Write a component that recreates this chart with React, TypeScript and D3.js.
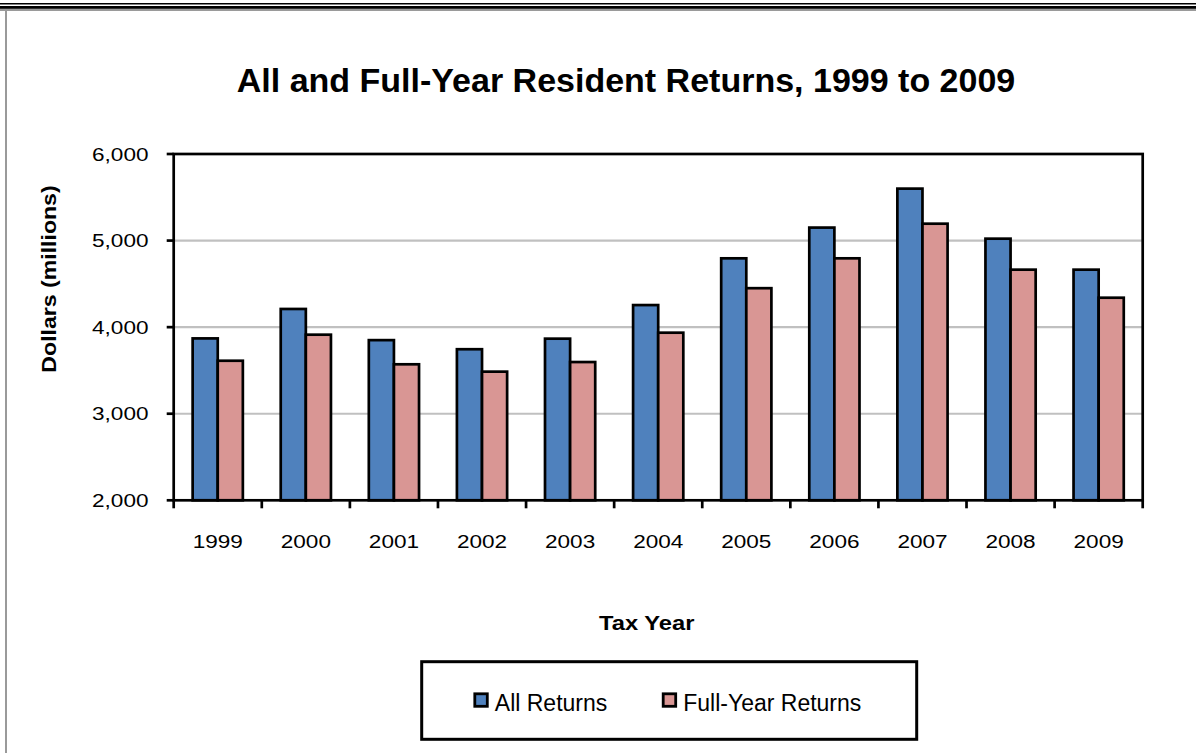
import React from "react";
import * as d3 from "d3";

const years = ["1999", "2000", "2001", "2002", "2003", "2004", "2005", "2006", "2007", "2008", "2009"];
const allReturns = [3870, 4210, 3850, 3745, 3867, 4255, 4795, 5150, 5600, 5022, 4664];
const fullYearReturns = [3612, 3913, 3571, 3486, 3597, 3936, 4450, 4795, 5195, 4664, 4340];
const seriesNames = ["All Returns", "Full-Year Returns"];
const seriesColors = ["#4F81BD", "#D99694"];
const yTicks = [2000, 3000, 4000, 5000, 6000];

const W = 1196;
const H = 753;
const FONT = "'Liberation Sans', Arial, Helvetica, sans-serif";

export default function App() {
  const x0 = 173.7, x1 = 1142.7, y0 = 154, y1 = 500.3;
  const x = d3.scaleBand<string>().domain(years).range([x0, x1]).paddingInner(0.43).paddingOuter(0.215);
  const xs = d3.scaleBand<string>().domain(seriesNames).range([0, x.bandwidth()]).padding(0);
  const y = d3.scaleLinear().domain([2000, 6000]).range([y1, y0]);
  const step = (x1 - x0) / years.length;
  const fmt = d3.format(",");
  const series = [allReturns, fullYearReturns];

  return (
    <svg width={W} height={H} style={{ display: "block", position: "absolute", left: 0, top: 0 }} fontFamily={FONT}>
      <rect x={0} y={0} width={W} height={H} fill="#fff" />
      {/* page frame */}
      <rect x={0} y={3} width={W} height={1.5} fill="#000" />
      <rect x={0} y={6} width={W} height={2.8} fill="#000" />
      <rect x={0} y={9} width={W} height={2} fill="#9a9a9a" />
      <rect x={5} y={10} width={2} height={H - 10} fill="#9a9a9a" />

      {/* title */}
      <text x={626} y={91.7} textAnchor="middle" fontSize={34} fontWeight="bold" fill="#000">
        All and Full-Year Resident Returns, 1999 to 2009
      </text>

      {/* gridlines */}
      {yTicks.filter((t) => t !== 2000 && t !== 6000).map((t) => (
        <line key={"g" + t} x1={x0} x2={x1} y1={y(t)} y2={y(t)} stroke="#C0C0C0" strokeWidth={2.2} />
      ))}

      {/* bars */}
      {years.map((yr, i) => (
        <g key={yr}>
          {seriesNames.map((s, j) => (
            <rect
              key={s}
              x={(x(yr) as number) + (xs(s) as number)}
              y={y(series[j][i])}
              width={xs.bandwidth()}
              height={y1 - y(series[j][i])}
              fill={seriesColors[j]}
              stroke="#000"
              strokeWidth={2.7}
            />
          ))}
        </g>
      ))}

      {/* plot frame */}
      <rect x={x0} y={y0} width={x1 - x0} height={y1 - y0} fill="none" stroke="#000" strokeWidth={2.7} />

      {/* y ticks */}
      {yTicks.map((t) => (
        <g key={"y" + t}>
          <line x1={x0 - 7} x2={x0} y1={y(t)} y2={y(t)} stroke="#000" strokeWidth={2.7} />
          <text
            transform={`translate(148.5, ${y(t) + 6.6}) scale(1.2,1)`}
            textAnchor="end"
            fontSize={18.8}
            fill="#000"
          >
            {fmt(t)}
          </text>
        </g>
      ))}

      {/* x ticks */}
      {d3.range(years.length + 1).map((k) => (
        <line key={"xt" + k} x1={x0 + k * step} x2={x0 + k * step} y1={y1} y2={y1 + 8} stroke="#000" strokeWidth={2.7} />
      ))}
      {years.map((yr) => (
        <text
          key={"xl" + yr}
          transform={`translate(${(x(yr) as number) + x.bandwidth() / 2}, 548.3) scale(1.2,1)`}
          textAnchor="middle"
          fontSize={18.8}
          fill="#000"
        >
          {yr}
        </text>
      ))}

      {/* axis titles */}
      <text transform="translate(646.7, 630) scale(1.13,1)" textAnchor="middle" fontSize={21} fontWeight="bold" fill="#000">
        Tax Year
      </text>
      <text transform="translate(55.5, 279) rotate(-90) scale(1.1,1)" textAnchor="middle" fontSize={21} fontWeight="bold" fill="#000">
        Dollars (millions)
      </text>

      {/* legend */}
      <rect x={421.7} y={661.7} width={495} height={77.6} fill="#fff" stroke="#000" strokeWidth={3} />
      {seriesNames.map((s, j) => {
        const lx = j === 0 ? 474.8 : 663.2;
        return (
          <g key={"lg" + s}>
            <rect x={lx} y={693.8} width={12.5} height={12.5} fill={seriesColors[j]} stroke="#000" strokeWidth={2.8} />
            <text x={lx + 20} y={710.7} fontSize={23} fill="#000">
              {s}
            </text>
          </g>
        );
      })}
    </svg>
  );
}
